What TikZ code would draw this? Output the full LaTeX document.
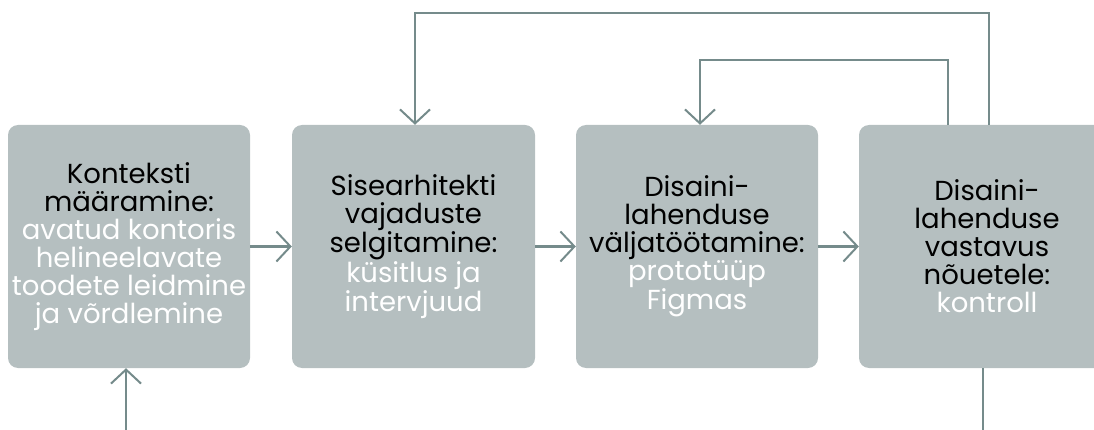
\documentclass[tikz,border=0pt]{standalone}
\usepackage{fontspec}
\setmainfont{Poppins}
\usetikzlibrary{arrows.meta}
\definecolor{boxfill}{HTML}{B5BFC0}
\definecolor{flowline}{HTML}{758B8B}
\tikzset{
  stage/.style={fill=boxfill, rounded corners=10pt, minimum height=243pt,
    inner sep=0pt, align=center, text=black,
    font=\fontsize{27.5}{28}\selectfont},
  flow/.style={draw=flowline, line width=2.4pt,
    -{Straight Barb[length=14pt,width=30pt,line width=2pt]}},
  plainflow/.style={draw=flowline, line width=2.4pt},
}
\newcommand{\detail}[1]{\textcolor{white}{#1}}
\begin{document}
\begin{tikzpicture}[x=1pt,y=-1pt]
\useasboundingbox (0,0) rectangle (1094,430);
\clip (0,0) rectangle (1094,430);

\node[stage, minimum width=242pt] (b1) at (129,246.5)
  {Konteksti\\määramine:\\\detail{avatud kontoris}\\\detail{helineelavate}\\\detail{toodete leidmine}\\\detail{ja võrdlemine}};
\node[stage, minimum width=243pt] (b2) at (413.5,246.5)
  {Sisearhitekti\\vajaduste\\selgitamine:\\\detail{küsitlus ja}\\\detail{intervjuud}};
\node[stage, minimum width=242pt] (b3) at (697,246.5)
  {Disaini-\\lahenduse\\väljatöötamine:\\\detail{prototüüp}\\\detail{Figmas}};
\node[stage, minimum width=256pt] (b4) at (987,246.5)
  {Disaini-\\lahenduse\\vastavus\\nõuetele:\\\detail{kontroll}};

% forward flow between stages
\draw[flow] (b1) -- (b2);
\draw[flow] (b2) -- (b3);
\draw[flow] (b3) -- (b4);

% entry from below and exit downwards
\coordinate (entry) at (126,430);
\draw[flow] (entry) -- (entry |- b1.south);
\coordinate (exit) at (983,430);
\draw[plainflow] (exit |- b4.south) -- (exit);

% feedback loops from the check stage
\coordinate (outerUp) at (989,13);
\coordinate (outerDown) at (415,13);
\draw[flow] (outerUp |- b4.north) -- (outerUp) -- (outerDown) -- (outerDown |- b2.north);
\coordinate (innerUp) at (948,60);
\coordinate (innerDown) at (700,60);
\draw[flow] (innerUp |- b4.north) -- (innerUp) -- (innerDown) -- (innerDown |- b3.north);
\end{tikzpicture}
\end{document}
